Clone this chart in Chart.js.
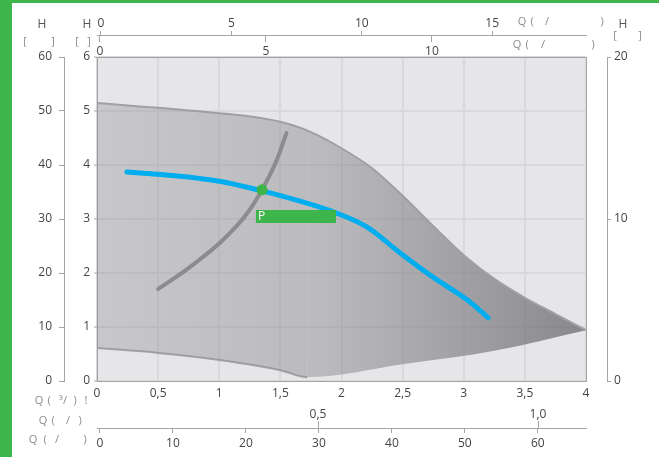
<!DOCTYPE html>
<html>
<head>
<meta charset="utf-8">
<script src="https://cdn.jsdelivr.net/npm/chart.js@4.4.0/dist/chart.umd.min.js"></script>
<style>
  body { margin: 0; background: #fff; }
  #wrap { position: relative; width: 659px; height: 457px; overflow: hidden; }
  #pump-chart { position: absolute; left: 0; top: 0; }
  .green-left { position: absolute; left: 0; top: 0; width: 12px; height: 457px; background: #3db54a; }
  .green-top { position: absolute; left: 0; top: 0; width: 659px; height: 3px; background: #3db54a; }
</style>
</head>
<body>
<div id="wrap">
  <canvas id="pump-chart" width="659" height="457"></canvas>
  <div class="green-left"></div>
  <div class="green-top"></div>
</div>
<script>
// values, Q on the 0..4 scale, H on the 0..6 scale
const maxCurveQ = [0, 0.25, 0.5, 0.75, 1.0, 1.25, 1.5, 1.75, 2.0, 2.25, 2.5, 2.75, 3.0, 3.25, 3.5, 3.75, 4.0];
const maxCurveH = [5.15, 5.10, 5.06, 5.01, 4.96, 4.90, 4.80, 4.61, 4.31, 3.94, 3.43, 2.87, 2.33, 1.89, 1.54, 1.24, 0.94];
const minCurveQ = [0, 0.5, 1.0, 1.5, 1.72, 2.5, 3.25, 4.0];
const minCurveH = [0.61, 0.52, 0.39, 0.20, 0.07, 0.31, 0.56, 0.94];
const pumpQ = [0.245, 0.49, 1.0, 1.35, 1.66, 1.96, 2.21, 2.48, 2.75, 3.03, 3.2];
const pumpH = [3.87, 3.83, 3.70, 3.52, 3.33, 3.11, 2.85, 2.37, 1.92, 1.50, 1.17];
const systemQ = [0.5, 0.76, 1.03, 1.23, 1.35, 1.47, 1.55];
const systemH = [1.70, 2.11, 2.61, 3.11, 3.54, 4.09, 4.59];
const dutyQ = [1.35];
const dutyH = [3.54];
const pBarQ = [1.30, 1.955];
const pBarH = [3.046, 3.046];

// tick labels of the extra axes
const hOuterTicks = [0, 10, 20, 30, 40, 50, 60];
const hInnerTicks = [0, 1, 2, 3, 4, 5, 6];
const hRightTicks = [0, 10, 20];
const topUpperTicks = [0, 5, 10, 15];
const topLowerTicks = [0, 5, 10];
const lsTicks = [0.5, 1.0];
const lminTicks = [0, 10, 20, 30, 40, 50, 60];

const labelColor = '#444';
const axisColor = '#a4a4a4';
const gridColor = '#d9d9dc';

Chart.defaults.font.family = "'Open Sans', sans-serif";
Chart.defaults.font.size = 12;
Chart.defaults.color = labelColor;

function pts(qs, hs) {
    return qs.map(function(q, i) { return {x: q, y: hs[i]}; });
}

function fixedTicks(list) {
    return function(scale) {
        scale.ticks = list.map(function(v) { return {value: v}; });
    };
}

function comma(v) {
    return String(v).replace('.', ',');
}

// gray band between max and min speed, darker to the right
function shadeFill(context) {
    const area = context.chart.chartArea;
    if (!area) return 'rgba(140,140,145,0.4)';
    const g = context.chart.ctx.createLinearGradient(area.left, 0, area.right, 0);
    g.addColorStop(0, 'rgba(135,135,140,0.32)');
    g.addColorStop(0.45, 'rgba(128,128,133,0.42)');
    g.addColorStop(1, 'rgba(112,112,117,0.80)');
    return g;
}

// light gray plot background
const plotBackground = {
    id: 'plotBackground',
    beforeDraw(chart) {
        const a = chart.chartArea;
        chart.ctx.save();
        chart.ctx.fillStyle = '#e6e6e8';
        chart.ctx.fillRect(a.left, a.top, a.right - a.left, a.bottom - a.top);
        chart.ctx.restore();
    }
};

// unit captions and the P tag
const captions = {
    id: 'captions',
    afterDatasetsDraw(chart) {
        const ctx = chart.ctx;
        const x = chart.scales.x, y = chart.scales.y;
        ctx.save();
        ctx.fillStyle = '#ffffff';
        ctx.font = "12px 'Open Sans', sans-serif";
        ctx.textAlign = 'left';
        ctx.textBaseline = 'middle';
        ctx.fillText('P', x.getPixelForValue(pBarQ[0]) + 2, y.getPixelForValue(pBarH[0]));
        ctx.restore();
    },
    afterDraw(chart) {
        const ctx = chart.ctx;
        ctx.save();
        ctx.textAlign = 'center';
        ctx.textBaseline = 'middle';
        function txt(s, px, py, color) {
            ctx.fillStyle = color || '#8c8c8c';
            ctx.fillText(s, px, py);
        }
        ctx.font = "12px 'Open Sans', sans-serif";
        txt('H', 42, 25, '#555');
        txt('H', 87, 25, '#555');
        txt('H', 623, 25, '#555');
        ctx.font = "11px 'Open Sans', sans-serif";
        txt('[', 25, 42); txt(']', 53, 42);
        txt('[', 77, 42); txt(']', 89, 42);
        txt('[', 615, 36); txt(']', 640, 36);
        // top captions
        txt('Q', 522, 22); txt('(', 532, 22); txt('/', 547, 22); txt(')', 602, 22);
        txt('Q', 517, 45); txt('(', 527, 45); txt('/', 543, 45); txt(')', 593, 45);
        // bottom captions
        txt('Q', 39, 401); txt('(', 49, 401); txt('³/', 63, 401); txt(')', 75, 401); txt('!', 86, 401);
        txt('Q', 43, 421); txt('(', 53, 421); txt('/', 68, 421); txt(')', 80, 421);
        txt('Q', 33, 440); txt('(', 45, 440); txt('/', 57, 440); txt(')', 85, 440);
        ctx.restore();
    }
};

const ctx = document.getElementById('pump-chart').getContext('2d');
new Chart(ctx, {
    type: 'line',
    data: {
        datasets: [{
            data: pts(dutyQ, dutyH),
            xAxisID: 'x', yAxisID: 'y',
            borderWidth: 0,
            pointRadius: 5.5,
            pointBackgroundColor: '#3db54a',
            pointBorderWidth: 0,
            showLine: false
        }, {
            data: pts(pBarQ, pBarH),
            xAxisID: 'x', yAxisID: 'y',
            borderColor: '#3db54a',
            borderWidth: 13,
            borderCapStyle: 'butt',
            pointRadius: 0
        }, {
            data: pts(pumpQ, pumpH),
            xAxisID: 'x', yAxisID: 'y',
            borderColor: '#00aeef',
            borderWidth: 5,
            borderCapStyle: 'round',
            cubicInterpolationMode: 'monotone',
            pointRadius: 0
        }, {
            data: pts(systemQ, systemH),
            xAxisID: 'x', yAxisID: 'y',
            borderColor: '#8c8c8e',
            borderWidth: 4,
            borderCapStyle: 'round',
            cubicInterpolationMode: 'monotone',
            pointRadius: 0
        }, {
            data: pts(maxCurveQ, maxCurveH),
            xAxisID: 'x', yAxisID: 'y',
            borderColor: '#a0a0a2',
            borderWidth: 2,
            cubicInterpolationMode: 'monotone',
            pointRadius: 0,
            fill: '+1',
            backgroundColor: shadeFill
        }, {
            data: pts(minCurveQ, minCurveH),
            xAxisID: 'x', yAxisID: 'y',
            borderWidth: 2,
            pointRadius: 0,
            cubicInterpolationMode: 'monotone',
            segment: {
                borderColor: function(c) { return c.p0.parsed.x >= 1.7 ? 'rgba(0,0,0,0)' : '#a6a6a8'; }
            }
        }]
    },
    options: {
        responsive: false,
        animation: false,
        layout: { padding: 0 },
        plugins: { legend: { display: false }, tooltip: { enabled: false } },
        scales: {
            x: {
                type: 'linear', position: 'bottom', weight: 0,
                min: 0, max: 4,
                ticks: { stepSize: 0.5, padding: 5, maxRotation: 0, autoSkip: false, callback: comma },
                grid: { color: gridColor, lineWidth: 2, drawTicks: false },
                border: { color: axisColor },
                afterFit: function(s) { s.height = 22; }
            },
            xLs: {
                type: 'linear', position: 'bottom', weight: 1,
                min: -0.0023, max: 1.109,
                afterBuildTicks: fixedTicks(lsTicks),
                ticks: { padding: -21, maxRotation: 0, autoSkip: false, callback: function(v) { return v.toFixed(1).replace('.', ','); } },
                grid: { drawOnChartArea: false, tickLength: 25, tickColor: axisColor, tickBorderDash: [7, 18], tickBorderDashOffset: 7 },
                border: { display: false },
                afterFit: function(s) { s.height = 25; }
            },
            xLmin: {
                type: 'linear', position: 'bottom', weight: 2,
                min: -0.41, max: 66.6,
                afterBuildTicks: fixedTicks(lminTicks),
                ticks: { padding: 3, maxRotation: 0, autoSkip: false },
                grid: { drawOnChartArea: false, tickLength: 5, tickColor: axisColor },
                border: { color: axisColor },
                afterFit: function(s) { s.height = 29; }
            },
            xTopA: {
                type: 'linear', position: 'top', weight: 2,
                min: -0.153, max: 18.6,
                afterBuildTicks: fixedTicks(topUpperTicks),
                ticks: { padding: 0, maxRotation: 0, autoSkip: false },
                grid: { drawOnChartArea: false, tickLength: 4, tickColor: axisColor },
                border: { color: axisColor },
                afterFit: function(s) { s.height = 35; }
            },
            xTopB: {
                type: 'linear', position: 'top', weight: 1,
                min: -0.09, max: 14.64,
                afterBuildTicks: fixedTicks(topLowerTicks),
                ticks: { padding: -24, maxRotation: 0, autoSkip: false },
                grid: { drawOnChartArea: false, tickLength: 22, tickColor: axisColor, tickBorderDash: [7, 15] },
                border: { color: axisColor },
                afterFit: function(s) { s.height = 22; }
            },
            yOuter: {
                type: 'linear', position: 'left', weight: 2,
                min: 0, max: 60,
                afterBuildTicks: fixedTicks(hOuterTicks),
                ticks: { padding: 7, autoSkip: false },
                grid: { drawOnChartArea: false, tickLength: 5, tickColor: axisColor },
                border: { color: axisColor },
                afterFit: function(s) { s.width = 64; }
            },
            y: {
                type: 'linear', position: 'left', weight: 1,
                min: 0, max: 6,
                afterBuildTicks: fixedTicks(hInnerTicks),
                ticks: { padding: 4, autoSkip: false },
                grid: { color: gridColor, lineWidth: 2, tickLength: 3, tickColor: axisColor, tickWidth: 1 },
                border: { color: axisColor },
                afterFit: function(s) { s.width = 33; }
            },
            ySpacer: {
                type: 'linear', position: 'right', weight: 1,
                min: 0, max: 1,
                ticks: { display: false },
                grid: { display: false },
                border: { color: axisColor },
                afterFit: function(s) { s.width = 21; }
            },
            yR: {
                type: 'linear', position: 'right', weight: 2,
                min: 0, max: 20,
                afterBuildTicks: fixedTicks(hRightTicks),
                ticks: { padding: 3, autoSkip: false },
                grid: { drawOnChartArea: false, tickLength: 4, tickColor: axisColor },
                border: { color: axisColor },
                afterFit: function(s) { s.width = 52; }
            }
        }
    },
    plugins: [plotBackground, captions]
});
</script>
</body>
</html>
